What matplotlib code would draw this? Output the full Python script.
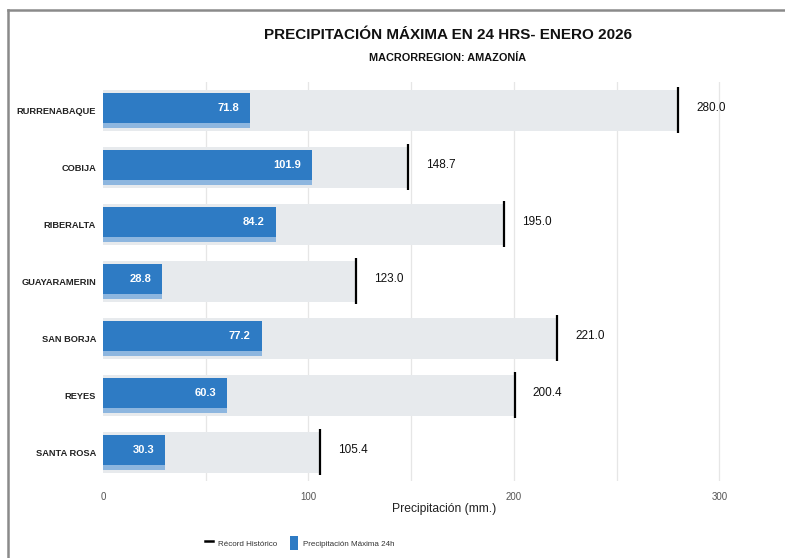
import matplotlib
matplotlib.use("Agg")
import matplotlib.pyplot as plt
from matplotlib.lines import Line2D
from matplotlib.patches import Patch

plt.rcParams['font.family'] = ['Liberation Sans', 'DejaVu Sans']

stations = ["RURRENABAQUE", "COBIJA", "RIBERALTA", "GUAYARAMERIN", "SAN BORJA", "REYES", "SANTA ROSA"]
precip_max = [71.8, 101.9, 84.2, 28.8, 77.2, 60.3, 30.3]
record = [280.0, 148.7, 195.0, 123.0, 221.0, 200.4, 105.4]
xticks = [0, 100, 200, 300]

BLUE = "#2e7bc4"
BLUE_LIGHT = "#8db6df"
GRAY = "#e7eaed"

fig = plt.figure(figsize=(7.85, 5.58), dpi=100)
W, H = 785, 558
ax = fig.add_axes([103 / W, 1 - 480.5 / H, (785 - 103) / W, (480.5 - 81.5) / H])

ypos = list(range(len(stations)))
ax.set_ylim(len(stations) - 0.5, -0.5)
ax.set_xlim(0, 332)

# grid
for g in range(50, 351, 50):
    ax.axvline(g, color="#e6e6e6", lw=0.9, zorder=0)

# record background bars
ax.barh([y + 0.01 for y in ypos], record, height=0.72, color=GRAY, zorder=1)
# blue bars with lighter bottom strip
ax.barh([y + 0.009 for y in ypos], precip_max, height=0.614, color=BLUE_LIGHT, zorder=2)
ax.barh([y - 0.035 for y in ypos], precip_max, height=0.526, color=BLUE, zorder=3)
# record lines
ax.vlines(record, [y - 0.41 for y in ypos], [y + 0.40 for y in ypos], color="black", lw=1.6, zorder=4)

for y, v, r in zip(ypos, precip_max, record):
    ax.annotate(f"{v:.1f}", (v, y - 0.03), xytext=(-8, 0), textcoords="offset points",
                ha="right", va="center", color="white", fontsize=8, fontweight="bold", zorder=5)
    ax.annotate(f"{r:.1f}", (r, y - 0.03), xytext=(13, 0), textcoords="offset points",
                ha="left", va="center", color="#111111", fontsize=8.5, zorder=5)

ax.set_yticks(ypos)
ax.set_yticklabels(stations, fontsize=6.7, fontweight="bold", color="#222222")
ax.set_xticks(xticks)
ax.set_xticklabels([str(t) for t in xticks], fontsize=7, color="#555555")
ax.tick_params(axis="both", length=0)
ax.tick_params(axis="y", pad=5)
ax.tick_params(axis="x", pad=8)
for s in ax.spines.values():
    s.set_visible(False)
ax.set_xlabel("Precipitación (mm.)", fontsize=8.7, color="#222222", labelpad=1)

fig.text(448 / W, 1 - 35 / H, "PRECIPITACIÓN MÁXIMA EN 24 HRS- ENERO 2026", ha="center", va="center",
         fontsize=11, fontweight="bold", color="#111111")
fig.text(448 / W, 1 - 58 / H, "MACRORREGION: AMAZONÍA", ha="center", va="center",
         fontsize=7.8, fontweight="bold", color="#111111")

handles = [Line2D([0], [0], color="black", lw=1.8),
           Patch(facecolor=BLUE, edgecolor="none")]
fig.legend(handles, ["Récord Histórico", "Precipitación Máxima 24h"], loc="center",
           bbox_to_anchor=(300 / W, 1 - 543 / H), ncol=2, frameon=False, fontsize=5.8,
           handlelength=1.0, handleheight=2.2, columnspacing=1.6, handletextpad=0.6,
           labelcolor="#333333")

# outer frame
fig.add_artist(Line2D([7.5 / W, 7.5 / W], [0, 1 - 10 / H], transform=fig.transFigure, color="#8a8a8a", lw=1.8))
fig.add_artist(Line2D([7.5 / W, 1], [1 - 10 / H, 1 - 10 / H], transform=fig.transFigure, color="#8a8a8a", lw=1.8))

fig.savefig("out.png", dpi=100)
